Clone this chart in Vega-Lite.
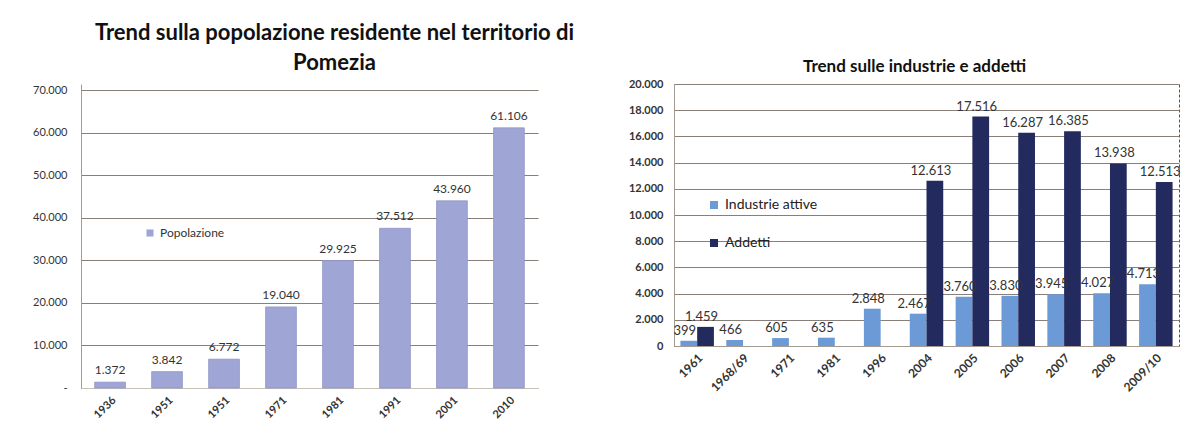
{
  "$schema": "https://vega.github.io/schema/vega-lite/v6.json",
  "padding": {"left": 32, "top": 22, "right": 0, "bottom": 0},
  "background": "white",
  "spacing": 52,
  "resolve": {"scale": {"color": "independent"}, "legend": {"color": "independent"}},
  "config": {
    "locale": {"number": {"decimal": ",", "thousands": ".", "grouping": [3], "currency": ["€", ""]}},
    "font": "Lato",
    "view": {"stroke": null},
    "axis": {"labelFont": "Lato", "labelColor": "#333333", "domainColor": "#a39a92", "gridColor": "#8a7f78", "ticks": false, "title": null},
    "legend": {"labelFont": "Lato"}
  },
  "hconcat": [
    {
      "width": 457,
      "height": 304,
      "title": {"text": ["Trend sulla popolazione residente nel territorio di", "Pomezia"], "fontSize": 22, "fontWeight": "bold", "lineHeight": 30, "offset": 9, "dx": 25, "anchor": "middle", "color": "#111111", "font": "Lato"},
      "data": {"values": [
        {"anno": "1936", "popolazione": 1372, "serie": "Popolazione"},
        {"anno": "1951", "popolazione": 3842, "serie": "Popolazione"},
        {"anno": " 1951", "popolazione": 6772, "serie": "Popolazione"},
        {"anno": "1971", "popolazione": 19040, "serie": "Popolazione"},
        {"anno": "1981", "popolazione": 29925, "serie": "Popolazione"},
        {"anno": "1991", "popolazione": 37512, "serie": "Popolazione"},
        {"anno": "2001", "popolazione": 43960, "serie": "Popolazione"},
        {"anno": "2010", "popolazione": 61106, "serie": "Popolazione"}
      ]},
      "encoding": {
        "x": {"field": "anno", "type": "nominal", "sort": null,
              "scale": {"paddingInner": 0.46, "paddingOuter": 0.24},
              "axis": {"labelAngle": -45, "labelFontSize": 11, "labelFontWeight": "bold", "labelPadding": 6, "domainColor": "#c9c0b8"}},
        "y": {"field": "popolazione", "type": "quantitative",
              "scale": {"domain": [0, 71410], "nice": false},
              "axis": {"values": [0, 10000, 20000, 30000, 40000, 50000, 60000, 70000], "labelFontSize": 11, "labelPadding": 14, "format": ",d", "labelExpr": "datum.value === 0 ? '-' : datum.label", "grid": true, "domain": true}}
      },
      "layer": [
        {
          "mark": {"type": "bar", "stroke": "#8e95c6", "strokeWidth": 0.8},
          "encoding": {
            "color": {"field": "serie", "type": "nominal",
                      "scale": {"range": ["#9fa6d6"]},
                      "legend": {"title": null, "orient": "none", "legendX": 63, "legendY": 143, "symbolType": "square", "symbolSize": 50, "labelFontSize": 12, "labelColor": "#333333", "symbolStrokeWidth": 0}}
          }
        },
        {
          "mark": {"type": "text", "dy": -12, "fontSize": 12, "color": "#333333"},
          "encoding": {"text": {"field": "popolazione", "type": "quantitative", "format": ",d"}}
        }
      ]
    },
    {
      "width": 505,
      "height": 262,
      "view": {"stroke": "#555555", "strokeDash": [3, 2], "strokeWidth": 1},
      "title": {"text": "Trend sulle industrie e addetti", "fontSize": 17, "fontWeight": "bold", "offset": 2, "dx": -12, "anchor": "middle", "color": "#111111", "font": "Lato"},
      "data": {"values": [
        {"anno": "1961", "serie": "Industrie attive", "valore": 399},
        {"anno": "1961", "serie": "Addetti", "valore": 1459},
        {"anno": "1968/69", "serie": "Industrie attive", "valore": 466},
        {"anno": "1971", "serie": "Industrie attive", "valore": 605},
        {"anno": "1981", "serie": "Industrie attive", "valore": 635},
        {"anno": "1996", "serie": "Industrie attive", "valore": 2848},
        {"anno": "2004", "serie": "Industrie attive", "valore": 2467},
        {"anno": "2004", "serie": "Addetti", "valore": 12613},
        {"anno": "2005", "serie": "Industrie attive", "valore": 3760},
        {"anno": "2005", "serie": "Addetti", "valore": 17516},
        {"anno": "2006", "serie": "Industrie attive", "valore": 3830},
        {"anno": "2006", "serie": "Addetti", "valore": 16287},
        {"anno": "2007", "serie": "Industrie attive", "valore": 3945},
        {"anno": "2007", "serie": "Addetti", "valore": 16385},
        {"anno": "2008", "serie": "Industrie attive", "valore": 4027},
        {"anno": "2008", "serie": "Addetti", "valore": 13938},
        {"anno": "2009/10", "serie": "Industrie attive", "valore": 4713},
        {"anno": "2009/10", "serie": "Addetti", "valore": 12513}
      ]},
      "encoding": {
        "x": {"field": "anno", "type": "nominal", "sort": null,
              "scale": {"paddingInner": 0.27, "paddingOuter": 0.14},
              "axis": {"labelAngle": -45, "labelFontSize": 12, "labelFontWeight": "bold", "labelPadding": 6, "domainColor": "#a39a92"}},
        "xOffset": {"field": "serie", "type": "nominal", "sort": ["Industrie attive", "Addetti"]},
        "y": {"field": "valore", "type": "quantitative",
              "scale": {"domain": [0, 20000], "nice": false},
              "axis": {"values": [0, 2000, 4000, 6000, 8000, 10000, 12000, 14000, 16000, 18000, 20000], "labelFontSize": 11, "labelFontWeight": "bold", "labelPadding": 11, "format": ",d", "grid": true, "domain": true}}
      },
      "layer": [
        {
          "mark": {"type": "bar"},
          "encoding": {
            "color": {"field": "serie", "type": "nominal",
                      "scale": {"domain": ["Industrie attive", "Addetti"], "range": ["#6b9ad6", "#232a5e"]},
                      "legend": {"title": null, "orient": "none", "legendX": 33, "legendY": 114, "symbolType": "square", "symbolSize": 64, "labelFontSize": 14, "labelColor": "#222222", "rowPadding": 24, "symbolStrokeWidth": 0}}
          }
        },
        {
          "mark": {"type": "text", "dy": -10, "dx": -4, "fontSize": 13, "color": "#333333"},
          "encoding": {"text": {"field": "valore", "type": "quantitative", "format": ",d"}}
        }
      ]
    }
  ]
}
